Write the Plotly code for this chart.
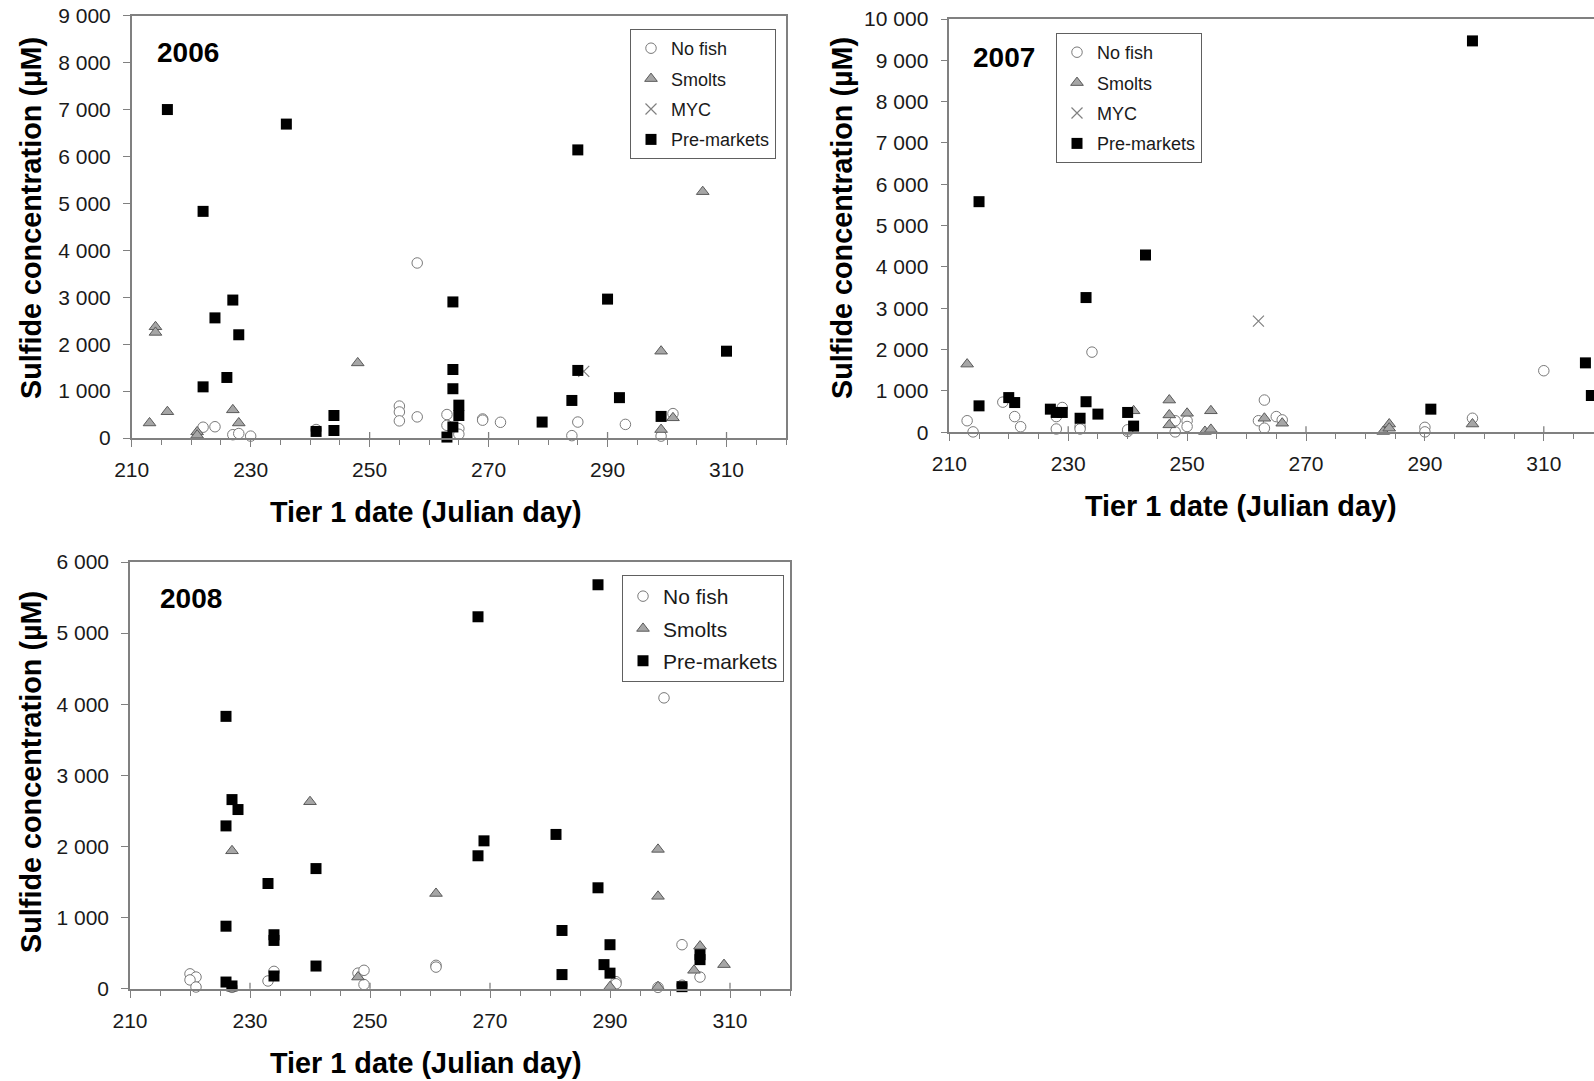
import plotly.graph_objects as go

W, H = 1594, 1081
FONT = "Arial, Liberation Sans, sans-serif"

# ---------------- data ----------------
# 2006
nofish_2006_day = [222, 224, 227, 228, 230, 241, 255, 255, 255, 258, 258, 263, 263, 265, 265, 269, 269, 272, 284, 285, 293, 299, 301]
nofish_2006_val = [230, 240, 70, 95, 40, 180, 680, 555, 365, 450, 3730, 500, 270, 200, 80, 405, 380, 335, 50, 340, 290, 40, 520]
smolts_2006_day = [213, 214, 214, 216, 221, 221, 227, 228, 248, 299, 299, 301, 306]
smolts_2006_val = [320, 2370, 2250, 560, 130, 60, 600, 320, 1600, 1850, 180, 430, 5250]
myc_2006_day = [286]
myc_2006_val = [1420]
pre_2006_day = [216, 222, 222, 224, 226, 227, 228, 236, 241, 244, 244, 263, 264, 264, 264, 264, 265, 265, 279, 284, 285, 285, 290, 292, 299, 310]
pre_2006_val = [7000, 4830, 1090, 2560, 1290, 2940, 2200, 6690, 140, 480, 160, 20, 2900, 1460, 1050, 235, 700, 480, 340, 800, 6140, 1440, 2960, 860, 460, 1850]

# 2007
nofish_2007_day = [213, 214, 219, 221, 222, 228, 228, 229, 232, 232, 234, 240, 240, 248, 248, 250, 250, 262, 263, 263, 265, 266, 290, 290, 298, 310]
nofish_2007_val = [280, 10, 730, 380, 135, 380, 80, 600, 140, 80, 1940, 20, 60, 280, 10, 280, 140, 280, 780, 100, 380, 300, 120, 10, 340, 1490]
smolts_2007_day = [213, 241, 247, 247, 247, 250, 253, 254, 254, 263, 266, 283, 284, 284, 298]
smolts_2007_val = [1650, 520, 780, 420, 180, 460, 20, 70, 520, 340, 220, 20, 200, 100, 200]
myc_2007_day = [262]
myc_2007_val = [2690]
pre_2007_day = [215, 215, 220, 221, 227, 228, 229, 232, 233, 233, 235, 240, 241, 243, 291, 298, 317, 318]
pre_2007_val = [5580, 640, 840, 720, 560, 480, 480, 340, 3260, 740, 440, 480, 150, 4290, 560, 9470, 1680, 890]

# 2008
nofish_2008_day = [220, 221, 220, 221, 227, 233, 234, 248, 249, 249, 261, 261, 291, 291, 298, 299, 302, 302, 305]
nofish_2008_val = [210, 165, 125, 25, 20, 110, 245, 220, 260, 60, 330, 305, 100, 70, 20, 4090, 620, 50, 165]
smolts_2008_day = [227, 240, 248, 261, 290, 298, 298, 298, 304, 305, 309]
smolts_2008_val = [1940, 2630, 165, 1340, 30, 1960, 1300, 30, 260, 600, 340]
pre_2008_day = [226, 226, 227, 228, 226, 226, 227, 233, 234, 234, 234, 241, 241, 268, 268, 269, 281, 282, 282, 288, 288, 289, 290, 290, 302, 305, 305]
pre_2008_val = [3830, 2290, 2660, 2520, 880, 95, 40, 1480, 760, 680, 180, 1690, 320, 5230, 1870, 2080, 2170, 820, 200, 5680, 1420, 340, 620, 220, 30, 480, 410]

# axis ticks / labels
x_tick_vals = [210, 230, 250, 270, 290, 310]
x_tick_text = ["210", "230", "250", "270", "290", "310"]
y_tick_vals_2006 = [0, 1000, 2000, 3000, 4000, 5000, 6000, 7000, 8000, 9000]
y_tick_text_2006 = ["0", "1 000", "2 000", "3 000", "4 000", "5 000", "6 000", "7 000", "8 000", "9 000"]
y_tick_vals_2007 = [0, 1000, 2000, 3000, 4000, 5000, 6000, 7000, 8000, 9000, 10000]
y_tick_text_2007 = ["0", "1 000", "2 000", "3 000", "4 000", "5 000", "6 000", "7 000", "8 000", "9 000", "10 000"]
y_tick_vals_2008 = [0, 1000, 2000, 3000, 4000, 5000, 6000]
y_tick_text_2008 = ["0", "1 000", "2 000", "3 000", "4 000", "5 000", "6 000"]

years = ["2006", "2007", "2008"]
x_title = "Tier 1 date (Julian day)"
y_title = "Sulfide concentration (µM)"

# ---------------- styles ----------------
STYLE = {
    "No fish": dict(symbol="circle", size=10.5, color="white", line=dict(color="#7a7a7a", width=1)),
    "Smolts": dict(symbol="triangle-up", size=11, color="#a6a6a6", line=dict(color="#5a5a5a", width=1)),
    "MYC": dict(symbol="x-thin", size=11, color="#808080", line=dict(color="#808080", width=1.2)),
    "Pre-markets": dict(symbol="square", size=11, color="black", line=dict(color="black", width=0)),
}

panels = [
    dict(xa="x", ya="y", legend="legend", series=[
        ("No fish", nofish_2006_day, nofish_2006_val),
        ("Smolts", smolts_2006_day, smolts_2006_val),
        ("MYC", myc_2006_day, myc_2006_val),
        ("Pre-markets", pre_2006_day, pre_2006_val)]),
    dict(xa="x2", ya="y2", legend="legend2", series=[
        ("No fish", nofish_2007_day, nofish_2007_val),
        ("Smolts", smolts_2007_day, smolts_2007_val),
        ("MYC", myc_2007_day, myc_2007_val),
        ("Pre-markets", pre_2007_day, pre_2007_val)]),
    dict(xa="x3", ya="y3", legend="legend3", series=[
        ("No fish", nofish_2008_day, nofish_2008_val),
        ("Smolts", smolts_2008_day, smolts_2008_val),
        ("Pre-markets", pre_2008_day, pre_2008_val)]),
]

fig = go.Figure()
for pi, p in enumerate(panels):
    for name, xs, ys in p["series"]:
        fig.add_trace(go.Scatter(
            x=xs, y=ys, mode="markers", name=name,
            xaxis=p["xa"], yaxis=p["ya"], legend=p["legend"],
            legendgroup=f"{name}-{pi}",
            marker=STYLE[name], cliponaxis=False, hoverinfo="x+y+name"))

AX = "#808080"
TICKFONT = dict(family=FONT, size=21, color="#1a1a1a")


def xaxis(domain, rng, anchor, mirror=True):
    return dict(domain=domain, range=rng, anchor=anchor, automargin=False,
                tickmode="array", tickvals=x_tick_vals, ticktext=x_tick_text,
                ticks="outside", ticklen=7, tickwidth=1.3, tickcolor=AX,
                showline=True, linecolor=AX, linewidth=1.5, mirror=mirror,
                showgrid=False, zeroline=False, tickfont=TICKFONT,
                ticklabelstandoff=5,
                minor=dict(tick0=210, dtick=5, ticks="outside", ticklen=5,
                           tickwidth=1.2, tickcolor=AX, showgrid=False),
                fixedrange=True)


def yaxis(domain, rng, anchor, vals, text, mirror=True):
    return dict(domain=domain, range=rng, anchor=anchor, automargin=False,
                tickmode="array", tickvals=vals, ticktext=text,
                ticks="outside", ticklen=7, tickwidth=1.3, tickcolor=AX,
                showline=True, linecolor=AX, linewidth=1.5, mirror=mirror,
                showgrid=False, zeroline=False, tickfont=TICKFONT,
                ticklabelstandoff=8, fixedrange=True)


# pixel geometry of the three plot areas
p1 = dict(l=131.7, r=786, t=15.7, b=438)
p2 = dict(l=949.3, r=W, t=19, b=432.3)
p3 = dict(l=130, r=790, t=562, b=988.8)


def xd(p):
    return [p["l"] / W, p["r"] / W]


def yd(p):
    return [1 - p["b"] / H, 1 - p["t"] / H]


x2_end = 210 + (W - p2["l"]) / 5.945

fig.update_layout(
    template="none",
    width=W, height=H, margin=dict(l=0, r=0, t=0, b=0, pad=0, autoexpand=False),
    paper_bgcolor="white", plot_bgcolor="white",
    font=dict(family=FONT, color="#1a1a1a"),
    xaxis=xaxis(xd(p1), [210, 320], "y"),
    yaxis=yaxis(yd(p1), [0, 9000], "x", y_tick_vals_2006, y_tick_text_2006),
    xaxis2=xaxis(xd(p2), [210, x2_end], "y2"),
    yaxis2=yaxis(yd(p2), [0, 10000], "x2", y_tick_vals_2007, y_tick_text_2007, mirror=False),
    xaxis3=xaxis(xd(p3), [210, 320], "y3"),
    yaxis3=yaxis(yd(p3), [0, 6000], "x3", y_tick_vals_2008, y_tick_text_2008),
    showlegend=True,
)

# major x ticks cross the axis: add their inner part
shapes = []
for p, xa, ya in [(p1, "x", "y"), (p2, "x2", "y2"), (p3, "x3", "y3")]:
    frac = 6.0 / (p["b"] - p["t"])
    for v in x_tick_vals[1:]:
        shapes.append(dict(type="line", xref=xa, yref=f"{ya} domain", x0=v, x1=v, y0=0, y1=frac,
                           line=dict(color=AX, width=1.3), layer="below"))
fig.update_layout(shapes=shapes)

leg_common = dict(xanchor="left", yanchor="top", bgcolor="white",
                  bordercolor="#606060", borderwidth=1, traceorder="grouped",
                  itemwidth=30, itemclick=False, itemdoubleclick=False)
fig.update_layout(
    legend=dict(x=630 / W, y=1 - 29 / H, font=dict(family=FONT, size=18, color="#1a1a1a"),
                tracegroupgap=4, **leg_common),
    legend2=dict(x=1056 / W, y=1 - 33 / H, font=dict(family=FONT, size=18, color="#1a1a1a"),
                 tracegroupgap=4, **leg_common),
    legend3=dict(x=622 / W, y=1 - 575 / H, font=dict(family=FONT, size=21, color="#1a1a1a"),
                 tracegroupgap=2, **leg_common),
)

ann = []
# year labels
for txt, (cx, cy) in zip(years, [(188, 53), (1004, 58), (191, 598)]):
    ann.append(dict(text=f"<b>{txt}</b>", x=cx / W, y=1 - cy / H, xref="paper", yref="paper",
                    showarrow=False, xanchor="center", yanchor="middle",
                    font=dict(family=FONT, size=28, color="black")))
# axis titles
for (cx, cy) in [(426, 511.7), (1241, 506), (426, 1063)]:
    ann.append(dict(text=f"<b>{x_title}</b>", x=cx / W, y=1 - cy / H, xref="paper", yref="paper",
                    showarrow=False, xanchor="center", yanchor="middle",
                    font=dict(family=FONT, size=28.8, color="black")))
for (cx, cy) in [(31, 218), (842, 218), (31, 772)]:
    ann.append(dict(text=f"<b>{y_title}</b>", x=cx / W, y=1 - cy / H, xref="paper", yref="paper",
                    showarrow=False, xanchor="center", yanchor="middle", textangle=-90,
                    font=dict(family=FONT, size=28.8, color="black")))
fig.update_layout(annotations=ann)

fig.write_html("out.html", config={"displayModeBar": False})
